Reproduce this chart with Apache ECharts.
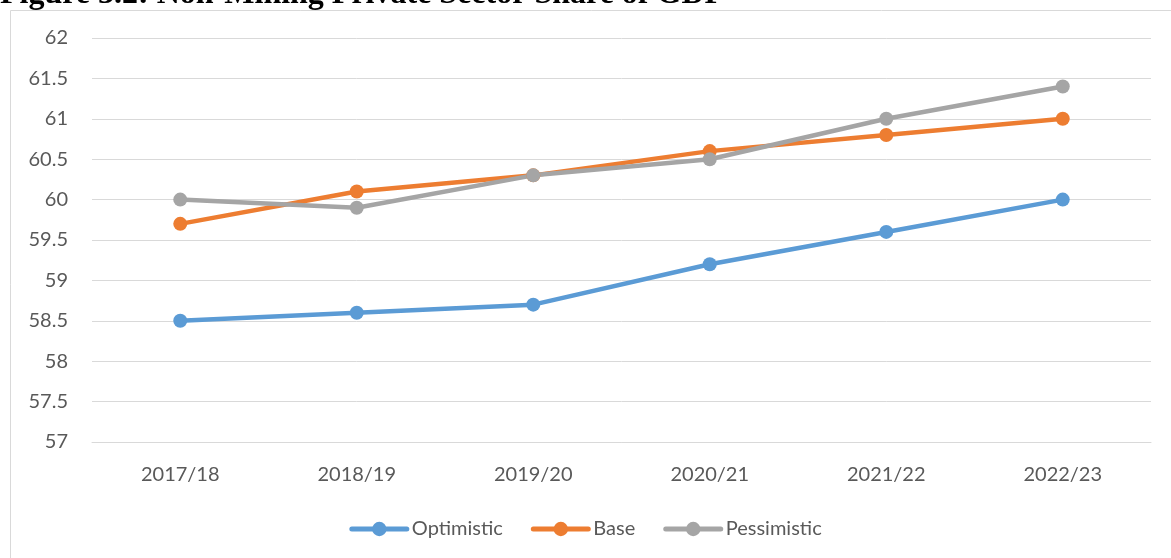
<!DOCTYPE html>
<html>
<head>
<meta charset="utf-8">
<script src="https://cdn.jsdelivr.net/npm/echarts@6/dist/echarts.min.js"></script>
<style>
  html, body { margin: 0; padding: 0; background: #fff; }
  #chart { width: 1171px; height: 558px; }
</style>
</head>
<body>
<div id="chart"></div>
<script>
const categories = ["2017/18", "2018/19", "2019/20", "2020/21", "2021/22", "2022/23"];
const optimistic = [58.5, 58.6, 58.7, 59.2, 59.6, 60.0];
const base = [59.7, 60.1, 60.3, 60.6, 60.8, 61.0];
const pessimistic = [60.0, 59.9, 60.3, 60.5, 61.0, 61.4];
const titleText = "Figure 3.2: Non-Mining Private Sector Share of GDP";

const font = "Lato";
const labelColor = "#595959";
const gridColor = "#D9D9D9";

function makeSeries(name, data, color) {
  return {
    name: name,
    type: "line",
    data: data,
    symbol: "circle",
    symbolSize: 14,
    showAllSymbol: true,
    lineStyle: { width: 4.5, color: color, cap: "round" },
    itemStyle: { color: color },
    emphasis: { disabled: true },
  };
}

const chart = echarts.init(document.getElementById("chart"));
chart.setOption({
  animation: false,
  color: ["#5B9BD5", "#ED7D31", "#A5A5A5"],
  graphic: [
    {
      type: "rect",
      shape: { x: 10.5, y: 10.5, width: 1300, height: 700 },
      style: { fill: "none", stroke: gridColor, lineWidth: 1 },
      silent: true,
      z: -10,
    },
    {
      type: "text",
      x: 0,
      y: 11,
      style: {
        text: titleText,
        font: 'bold 32px "Liberation Serif"',
        fill: "#000",
        verticalAlign: "bottom",
      },
      silent: true,
    },
  ],
  grid: { left: 92, right: 20, top: 38, bottom: 116, containLabel: false },
  legend: {
    top: 514,
    left: "center",
    itemWidth: 55,
    itemHeight: 18,
    itemGap: 28,
    lineStyle: { width: 5, cap: "round" },
    textStyle: { fontFamily: font, fontSize: 20, color: labelColor },
    data: ["Optimistic", "Base", "Pessimistic"],
  },
  xAxis: {
    type: "category",
    data: categories,
    boundaryGap: true,
    axisLine: { show: true, lineStyle: { color: gridColor, width: 1 } },
    axisTick: { show: false },
    axisLabel: { fontFamily: font, fontSize: 20, color: labelColor, margin: 23 },
  },
  yAxis: {
    type: "value",
    min: 57,
    max: 62,
    interval: 0.5,
    axisLine: { show: false },
    axisTick: { show: false },
    axisLabel: { fontFamily: font, fontSize: 20, color: labelColor, margin: 24 },
    splitLine: { lineStyle: { color: gridColor, width: 1 } },
  },
  series: [
    makeSeries("Optimistic", optimistic, "#5B9BD5"),
    makeSeries("Base", base, "#ED7D31"),
    makeSeries("Pessimistic", pessimistic, "#A5A5A5"),
  ],
});
</script>
</body>
</html>
